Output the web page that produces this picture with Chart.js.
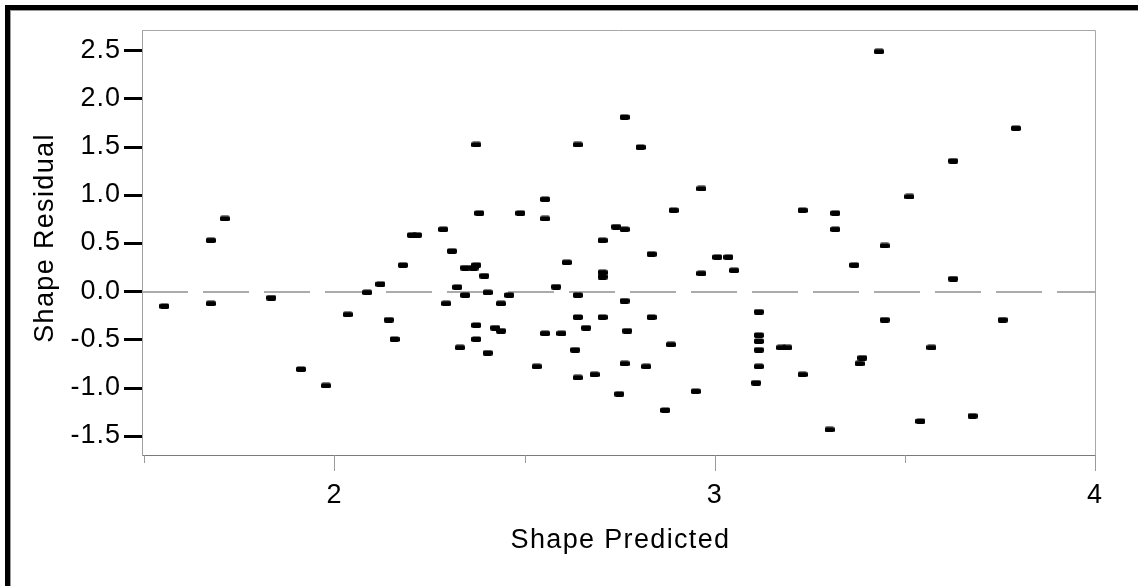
<!DOCTYPE html>
<html>
<head>
<meta charset="utf-8">
<title>Shape Residual by Predicted</title>
<script src="https://cdn.jsdelivr.net/npm/chart.js@4/dist/chart.umd.min.js"></script>
<style>
  html, body { margin: 0; padding: 0; background: #fff; }
  #wrap { width: 1138px; height: 586px; }
</style>
</head>
<body>
<div id="wrap"><canvas id="chart" width="1138" height="586"></canvas></div>
<script>
// data
const predicted = [
  1.553, 1.675, 1.675, 1.712, 1.834, 1.912, 1.978, 2.035, 2.086, 2.121,
  2.143, 2.158, 2.180, 2.204, 2.217, 2.286, 2.294, 2.309, 2.323, 2.330,
  2.344, 2.344, 2.366, 2.373, 2.373, 2.381, 2.373, 2.373, 2.394, 2.403,
  2.403, 2.423, 2.438, 2.438, 2.460, 2.489, 2.532, 2.554, 2.554, 2.554,
  2.583, 2.597, 2.611, 2.640, 2.640, 2.640, 2.633, 2.640, 2.662, 2.684,
  2.705, 2.705, 2.705, 2.705, 2.741, 2.763, 2.763, 2.749, 2.763, 2.770,
  2.763, 2.805, 2.820, 2.834, 2.834, 2.870, 2.885, 2.892, 2.950, 2.965,
  2.965, 3.007, 3.036, 3.051, 3.116, 3.116, 3.116, 3.116, 3.116, 3.109,
  3.175, 3.191, 3.432, 3.792, 3.627, 3.512, 3.231, 3.317, 3.317, 3.447,
  3.367, 3.627, 3.447, 3.757, 3.570, 3.388, 3.381, 3.231, 3.678, 3.541,
  3.302
]
const residual = [
  -0.153, 0.530, -0.125, 0.755, -0.066, -0.807, -0.977, -0.239, -0.010, 0.076,
  -0.295, -0.496, 0.273, 0.585, 0.585, 0.644, -0.125, 0.419, 0.045, -0.582,
  0.245, -0.038, 0.245, 0.273, 1.523, 0.813, -0.350, -0.496, 0.162, -0.010,
  -0.638, -0.378, -0.125, -0.409, -0.038, 0.813, -0.779, 0.956, 0.755, -0.436,
  0.048, -0.436, 0.301, 1.523, -0.038, -0.267, -0.607, -0.894, -0.378, -0.862,
  0.530, 0.197, 0.152, -0.267, 0.671, 0.644, 1.808, -1.064, -0.098, -0.409,
  -0.748, 1.496, -0.779, 0.388, -0.267, -1.233, -0.551, 0.842, -1.036, 1.066,
  0.187, 0.356, 0.356, 0.218, -0.212, -0.454, -0.516, -0.607, -0.779, -0.949,
  -0.582, -0.582, 2.489, 1.693, 1.354, 0.983, 0.842, 0.813, 0.644, 0.474,
  0.273, 0.131, -0.295, -0.295, -0.582, -0.690, -0.748, -0.862, -1.292, -1.347,
  -1.434
]

const yTicks = [-1.5, -1.0, -0.5, 0.0, 0.5, 1.0, 1.5, 2.0, 2.5]
const xMajorTicks = [2, 3, 4]
const xMinorTicks = [1.5, 2.5, 3.5]
const xTitle = "Shape Predicted"
const yTitle = "Shape Residual"

const FONT = "'Liberation Sans', Arial, Helvetica, sans-serif"

// small black rounded bar used as the marker
function makeMarker() {
  const c = document.createElement("canvas")
  c.width = 10
  c.height = 6
  const g = c.getContext("2d")
  g.fillStyle = "#000"
  g.beginPath()
  g.roundRect(0, 0.5, 10, 5.5, 1.8)
  g.fill()
  return c
}

// frame, plot box, zero line, tick marks and titles
const decor = {
  id: "decor",
  beforeDraw(chart) {
    const c = chart.ctx
    c.save()
    c.fillStyle = "#fff"
    c.fillRect(0, 0, chart.width, chart.height)
    c.fillStyle = "#000"
    c.fillRect(5, 5, chart.width - 5, 5)
    c.fillRect(5, 5, 5, chart.height - 5)
    c.fillStyle = "#9a9a9a"
    c.fillRect(10, 10, chart.width - 10, 1)
    c.fillRect(10, 10, 1, chart.height - 10)
    c.restore()
    // looser lettering for the tick labels, as in the original
    c.letterSpacing = "1px"
  },
  beforeDatasetsDraw(chart) {
    const c = chart.ctx
    const a = chart.chartArea
    const xs = chart.scales.x
    const ys = chart.scales.y
    c.save()
    // top and right sides of the box
    c.strokeStyle = "#a8a8a8"
    c.lineWidth = 1
    c.beginPath()
    c.moveTo(a.left, a.top + 0.5)
    c.lineTo(a.right + 0.5, a.top + 0.5)
    c.lineTo(a.right + 0.5, a.bottom)
    c.stroke()

    // dashed reference line at zero
    const y0 = Math.round(ys.getPixelForValue(0)) + 1
    c.strokeStyle = "#ababab"
    c.lineWidth = 2
    c.setLineDash([46, 15])
    c.beginPath()
    c.moveTo(a.left, y0)
    c.lineTo(a.right, y0)
    c.stroke()
    c.setLineDash([])

    // y ticks: short thick black bars left of the axis
    c.strokeStyle = "#000"
    c.lineWidth = 3
    yTicks.forEach(v => {
      const y = Math.round(ys.getPixelForValue(v)) + 0.5
      c.beginPath()
      c.moveTo(a.left - 18, y)
      c.lineTo(a.left, y)
      c.stroke()
    })

    // x ticks: gray, long for major, short for minor
    c.strokeStyle = "#9a9a9a"
    c.lineWidth = 1
    xMajorTicks.forEach(v => {
      const x = Math.round(xs.getPixelForValue(v)) + 0.5
      c.beginPath()
      c.moveTo(x, a.bottom)
      c.lineTo(x, a.bottom + 16)
      c.stroke()
    })
    xMinorTicks.forEach(v => {
      const x = Math.round(xs.getPixelForValue(v)) + 0.5
      c.beginPath()
      c.moveTo(x, a.bottom)
      c.lineTo(x, a.bottom + 8)
      c.stroke()
    })
    c.restore()
  },
  afterDraw(chart) {
    const c = chart.ctx
    const a = chart.chartArea
    c.save()
    c.fillStyle = "#000"
    c.textAlign = "center"
    c.textBaseline = "alphabetic"
    c.font = "27px " + FONT
    c.letterSpacing = "1.35px"
    c.fillText(xTitle, (a.left + a.right) / 2 + 2, 548)
    c.translate(53, 238)
    c.rotate(-Math.PI / 2)
    c.fillText(yTitle, 0, 0)
    c.restore()
    c.letterSpacing = "0px"
  }
}

const chart = new Chart(document.getElementById("chart"), {
  type: "scatter",
  data: {
    datasets: [{
      data: predicted.map((x, i) => ({ x: x, y: residual[i] })),
      pointStyle: makeMarker(),
      pointRadius: 5,
      pointHoverRadius: 5
    }]
  },
  options: {
    responsive: false,
    animation: false,
    events: [],
    devicePixelRatio: 1,
    layout: { padding: { top: 30, right: 43, bottom: 0, left: 0 } },
    plugins: {
      legend: { display: false },
      tooltip: { enabled: false }
    },
    scales: {
      x: {
        type: "linear",
        min: 1.494,
        max: 4.0,
        grid: { display: false, drawTicks: false },
        border: { display: true, color: "#7a7a7a", width: 1 },
        ticks: {
          padding: 24,
          color: "#000",
          font: { family: FONT, size: 27 },
          callback: v => String(v)
        },
        afterBuildTicks: s => { s.ticks = xMajorTicks.map(v => ({ value: v })) },
        afterFit: s => {
          s.height = 131
          s.paddingLeft = 0
          s.paddingRight = 0
        }
      },
      y: {
        type: "linear",
        min: -1.70,
        max: 2.71,
        grid: { display: false, drawTicks: false },
        border: { display: true, color: "#a0a0a0", width: 1 },
        ticks: {
          padding: 21,
          color: "#000",
          font: { family: FONT, size: 27 },
          callback: v => v.toFixed(1)
        },
        afterBuildTicks: s => { s.ticks = yTicks.map(v => ({ value: v })) },
        afterFit: s => {
          s.width = 142
          s.paddingTop = 0
          s.paddingBottom = 0
        }
      }
    }
  },
  plugins: [decor]
})
</script>
</body>
</html>
